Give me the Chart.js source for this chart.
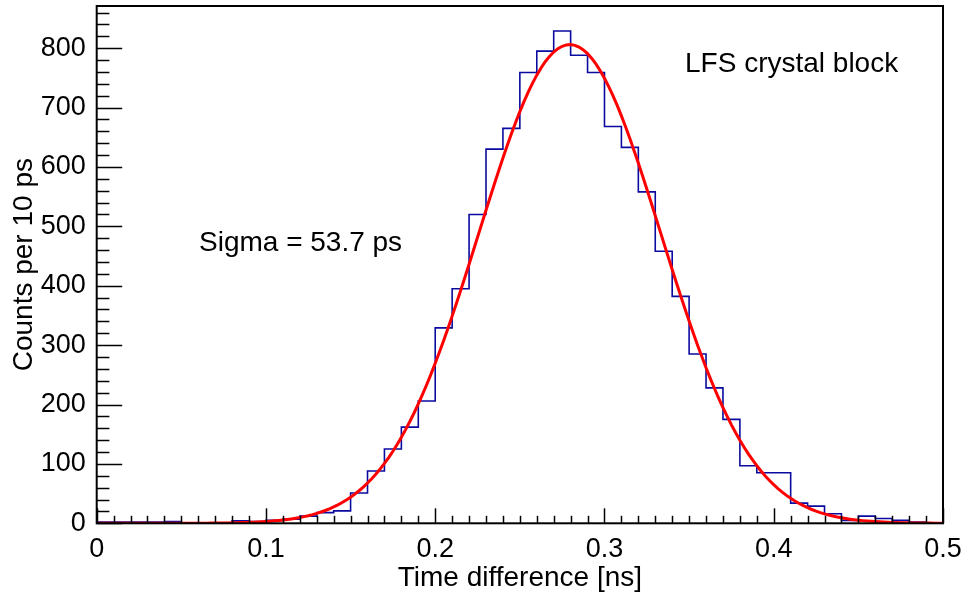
<!DOCTYPE html>
<html>
<head>
<meta charset="utf-8">
<script src="https://cdn.jsdelivr.net/npm/chart.js@4/dist/chart.umd.min.js"></script>
<style>
  html, body { margin: 0; padding: 0; background: #fff; }
  #wrap { width: 971px; height: 595px; }
</style>
</head>
<body>
<div id="wrap"><canvas id="c" width="971" height="595"></canvas></div>
<script>
// ---- data ----
const binWidth = 0.01;
const binLowEdges = [0.00,0.01,0.02,0.03,0.04,0.05,0.06,0.07,0.08,0.09,
                     0.10,0.11,0.12,0.13,0.14,0.15,0.16,0.17,0.18,0.19,
                     0.20,0.21,0.22,0.23,0.24,0.25,0.26,0.27,0.28,0.29,
                     0.30,0.31,0.32,0.33,0.34,0.35,0.36,0.37,0.38,0.39,
                     0.40,0.41,0.42,0.43,0.44,0.45,0.46,0.47,0.48,0.49];
const counts = [2,2,2,2,3,1,1,1,4,3,
                5,7,12,18,21,51,88,125,162,206,
                329,395,520,630,665,759,795,829,788,759,
                668,633,558,458,382,285,228,175,97,85,
                85,34,29,16,5,12,8,5,2,1];
// Gaussian fit parameters (sigma = 53.7 ps)
const fitAmplitude = 806;
const fitMean = 0.2795;
const fitSigma = 0.0537;
const fitSampleX = [];
for (let i = 0; i <= 200; i++) fitSampleX.push(i * 0.0025);

const xTicks = [0, 0.1, 0.2, 0.3, 0.4, 0.5];
const xTickLabels = ['0', '0.1', '0.2', '0.3', '0.4', '0.5'];
const yTicks = [0, 100, 200, 300, 400, 500, 600, 700, 800];
const yTickLabels = ['0', '100', '200', '300', '400', '500', '600', '700', '800'];
const xTitle = 'Time difference [ns]';
const yTitle = 'Counts per 10 ps';
const label1 = 'LFS crystal block';
const label2 = 'Sigma = 53.7 ps';

// ---- build datasets ----
const histPoints = binLowEdges.map((x, i) => ({ x: x, y: counts[i] }));
histPoints.push({ x: binLowEdges[binLowEdges.length - 1] + binWidth, y: counts[counts.length - 1] });
const fitPoints = fitSampleX.map(x => ({
  x: x,
  y: fitAmplitude * Math.exp(-Math.pow(x - fitMean, 2) / (2 * fitSigma * fitSigma))
}));

const FONT = '"Liberation Sans", Arial, Helvetica, sans-serif';

const rootPlugin = {
  id: 'rootStyle',
  afterDraw(chart) {
    const ctx = chart.ctx;
    const a = chart.chartArea;
    const xs = chart.scales.x, ys = chart.scales.y;
    ctx.save();
    ctx.strokeStyle = '#000';
    ctx.lineWidth = 1.5;
    for (let k = 0; k <= 50; k++) {
      const v = k * 0.01;
      const px = Math.round(xs.getPixelForValue(v)) + 0.5;
      const len = (k % 10 === 0) ? 15 : 7.5;
      ctx.beginPath();
      ctx.moveTo(px, a.bottom);
      ctx.lineTo(px, a.bottom - len);
      ctx.stroke();
    }
    for (let v = 0; v <= 860; v += 20) {
      const py = Math.round(ys.getPixelForValue(v)) + 0.5;
      const len = (v % 100 === 0) ? 25.5 : 12.7;
      ctx.beginPath();
      ctx.moveTo(a.left, py);
      ctx.lineTo(a.left + len, py);
      ctx.stroke();
    }
    ctx.lineWidth = 2;
    ctx.strokeRect(a.left, a.top, a.right - a.left, a.bottom - a.top);
    ctx.fillStyle = '#000';
    ctx.font = '28px ' + FONT;
    ctx.textBaseline = 'alphabetic';
    ctx.textAlign = 'left';
    ctx.fillText(label1, 685, 72);
    ctx.fillText(label2, 199, 251);
    ctx.restore();
  }
};

new Chart(document.getElementById('c'), {
  type: 'line',
  data: {
    datasets: [
      {
        label: 'histogram',
        data: histPoints,
        stepped: 'before',
        borderColor: 'rgb(10,10,160)',
        borderWidth: 1.6,
        pointRadius: 0,
        fill: false,
        order: 2
      },
      {
        label: 'fit',
        data: fitPoints,
        borderColor: '#ff0000',
        borderWidth: 3,
        pointRadius: 0,
        tension: 0,
        fill: false,
        order: 1
      }
    ]
  },
  options: {
    responsive: false,
    animation: false,
    devicePixelRatio: 1,
    layout: { padding: { top: 6, right: 28, bottom: 0, left: 0 } },
    plugins: { legend: { display: false }, tooltip: { enabled: false } },
    scales: {
      x: {
        type: 'linear',
        min: 0, max: 0.5,
        grid: { display: false, drawTicks: false },
        border: { display: false },
        afterBuildTicks: s => { s.ticks = xTicks.map(v => ({ value: v })); },
        afterFit: s => { s.height = 71.7; s.paddingLeft = 0; s.paddingRight = 0; },
        ticks: {
          autoSkip: false,
          maxRotation: 0,
          padding: 10,
          color: '#000',
          font: { family: FONT, size: 27 },
          callback: (v, i) => xTickLabels[i]
        },
        title: {
          display: true,
          text: xTitle,
          color: '#000',
          font: { family: FONT, size: 28 },
          padding: { top: 7, bottom: 0 }
        }
      },
      y: {
        type: 'linear',
        min: 0, max: 871,
        grid: { display: false, drawTicks: false },
        border: { display: false },
        afterBuildTicks: s => { s.ticks = yTicks.map(v => ({ value: v })); },
        afterFit: s => { s.width = 96.7; s.paddingTop = 0; s.paddingBottom = 0; },
        ticks: {
          autoSkip: false,
          padding: 11,
          color: '#000',
          font: { family: FONT, size: 27 },
          callback: (v, i) => yTickLabels[i]
        },
        title: {
          display: true,
          text: yTitle,
          color: '#000',
          font: { family: FONT, size: 28 },
          padding: { top: 7, bottom: 0 }
        }
      }
    }
  },
  plugins: [rootPlugin]
});
</script>
</body>
</html>
